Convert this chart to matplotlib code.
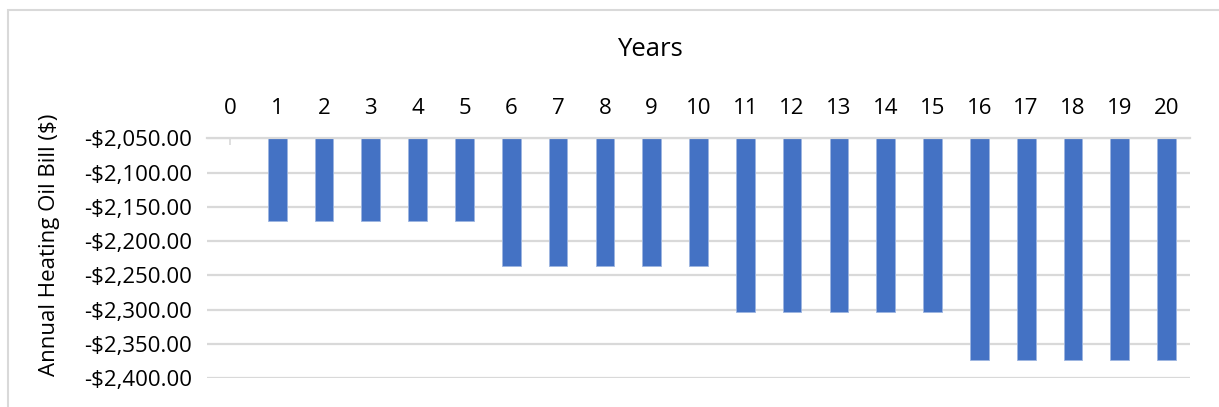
import matplotlib.pyplot as plt
from matplotlib.patches import Rectangle
from matplotlib.ticker import FuncFormatter

years = list(range(0, 21))
# annual bill per year (year 0 has no bill)
bills = [None,
         -2170, -2170, -2170, -2170, -2170,
         -2236, -2236, -2236, -2236, -2236,
         -2304, -2304, -2304, -2304, -2304,
         -2373, -2373, -2373, -2373, -2373]
axis_base = -2050
y_ticks = [-2050, -2100, -2150, -2200, -2250, -2300, -2350, -2400]

plt.rcParams['font.family'] = ['Open Sans', 'DejaVu Sans']

bar_color = '#4472C4'
grid_color = '#D9D9D9'

fig = plt.figure(figsize=(12.19, 4.07), dpi=100)
ax = fig.add_axes([207 / 1219, 1 - 378.3 / 407, (1190 - 207) / 1219, (378.3 - 138.3) / 407])

xs = [x for x, v in zip(years, bills) if v is not None]
vals = [v for v in bills if v is not None]
ax.bar(xs, [v - axis_base for v in vals], bottom=axis_base, width=0.4,
       color=bar_color, edgecolor='#9DB5E0', linewidth=0.6, zorder=2)

ax.set_xlim(-0.5, 20.5)
ax.set_ylim(-2400, -2050)
ax.set_yticks(y_ticks)
ax.set_xticks(years)
ax.yaxis.set_major_formatter(FuncFormatter(lambda v, p: '-${:,.2f}'.format(abs(v))))

ax.grid(axis='y', color=grid_color, linewidth=1.6, zorder=0)
ax.set_axisbelow(True)

for s in ['left', 'right', 'bottom']:
    ax.spines[s].set_visible(False)
ax.spines['top'].set_color(grid_color)
ax.spines['top'].set_linewidth(1.6)

ax.xaxis.tick_top()
ax.tick_params(axis='x', direction='in', length=5, width=1.2, color=grid_color,
               pad=14, labelsize=16, labelcolor='black')
ax.tick_params(axis='y', length=0, pad=11, labelsize=16, labelcolor='black')

fig.text(650 / 1219, 1 - 50 / 407, 'Years', ha='center', va='center', fontsize=18.5)
fig.text(50 / 1219, 1 - 245 / 407, 'Annual Heating Oil Bill ($)', ha='center', va='center',
         rotation=90, fontsize=16)

# chart frame
fig.patches.append(Rectangle((8 / 1219, -0.1), 1.2, 1 - 10 / 407 + 0.1,
                             transform=fig.transFigure, fill=False,
                             edgecolor=grid_color, linewidth=1.5))

fig.savefig('out.png', dpi=100)
